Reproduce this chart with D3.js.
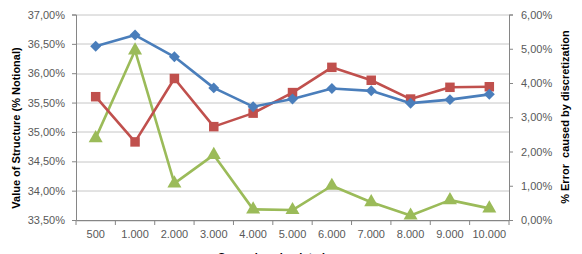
<!DOCTYPE html>
<html>
<head>
<meta charset="utf-8">
<script src="https://cdn.jsdelivr.net/npm/d3@7"></script>
<style>
  body { margin: 0; background: #fff; }
  svg text { font-family: "Liberation Sans", Arial, sans-serif; }
</style>
</head>
<body>
<svg id="chart"></svg>
<script>
// categories and series
const categories = ["500", "1.000", "2.000", "3.000", "4.000", "5.000", "6.000", "7.000", "8.000", "9.000", "10.000"];
const blueValues = [36.46, 36.65, 36.28, 35.75, 35.43, 35.56, 35.74, 35.70, 35.49, 35.55, 35.64];
const redValues = [35.60, 34.83, 35.91, 35.09, 35.32, 35.67, 36.10, 35.88, 35.56, 35.76, 35.77];
const greenValues = [2.39, 4.95, 1.07, 1.90, 0.31, 0.29, 1.00, 0.52, 0.13, 0.58, 0.34];
const leftTicks = [33.5, 34, 34.5, 35, 35.5, 36, 36.5, 37];
const rightTicks = [0, 1, 2, 3, 4, 5, 6];

const W = 582, H = 254;
const margin = { top: 14.5, right: 73, bottom: 34, left: 76 };
const width = W - margin.left - margin.right,
  height = H - margin.top - margin.bottom;

const fmt = (v) => v.toFixed(2).replace(".", ",") + "%";

const svg = d3.select("#chart").attr("width", W).attr("height", H);
const g = svg.append("g").attr("transform", "translate(" + margin.left + "," + margin.top + ")");

const x = d3.scaleBand().domain(categories).range([0, width]);
const yL = d3.scaleLinear().domain([33.5, 37]).range([height, 0]);
const yR = d3.scaleLinear().domain([0, 6]).range([height, 0]);

// gridlines
g.append("g")
  .selectAll("line")
  .data(leftTicks)
  .enter()
  .append("line")
  .attr("x1", 0)
  .attr("x2", width)
  .attr("y1", (d) => Math.round(yL(d)) + 0.5)
  .attr("y2", (d) => Math.round(yL(d)) + 0.5)
  .attr("stroke", "#c6c6c6")
  .attr("stroke-width", 1);

// left axis
const axL = g.append("g")
  .call(d3.axisLeft(yL).tickValues(leftTicks).tickFormat(fmt).tickSize(4).tickPadding(7));
// right axis
const axR = g.append("g")
  .attr("transform", "translate(" + width + ",0)")
  .call(d3.axisRight(yR).tickValues(rightTicks).tickFormat(fmt).tickSize(4).tickPadding(8));
// bottom axis, ticks between categories
const axB = g.append("g")
  .attr("transform", "translate(0," + height + ")")
  .call(d3.axisBottom(x).tickSize(0).tickPadding(10));
axB.selectAll(".tick")
  .append("line")
  .attr("x1", -x.bandwidth() / 2)
  .attr("x2", -x.bandwidth() / 2)
  .attr("y1", 0)
  .attr("y2", 5)
  .attr("stroke", "#868686");
axB.append("line")
  .attr("x1", width).attr("x2", width).attr("y1", 0).attr("y2", 5)
  .attr("stroke", "#868686");

[axL, axR, axB].forEach((a) => {
  a.select(".domain").attr("stroke", "#868686");
  a.selectAll(".tick line").attr("stroke", "#868686");
  a.selectAll("text").attr("fill", "#595959").style("font-size", "11px");
});

const cx = (d, i) => x(categories[i]) + x.bandwidth() / 2;

// excel-style diamond (square turned 45 degrees)
const squareDiamond = {
  draw(context, size) {
    const r = Math.sqrt(size / 2);
    context.moveTo(0, -r);
    context.lineTo(r, 0);
    context.lineTo(0, r);
    context.lineTo(-r, 0);
    context.closePath();
  }
};

function drawSeries(values, scale, color, symbolType, size) {
  const line = d3.line().x((d, i) => cx(d, i)).y((d) => scale(d));
  g.append("path")
    .datum(values)
    .attr("d", line)
    .attr("fill", "none")
    .attr("stroke", color)
    .attr("stroke-width", 2.6)
    .attr("stroke-linejoin", "round");
  g.selectAll(null)
    .data(values)
    .enter()
    .append("path")
    .attr("d", d3.symbol().type(symbolType).size(size))
    .attr("transform", (d, i) => "translate(" + cx(d, i) + "," + scale(d) + ")")
    .attr("fill", color);
}

drawSeries(greenValues, yR, "#9bbb59", d3.symbolTriangle, 85);
drawSeries(redValues, yL, "#c0504d", d3.symbolSquare, 90);
drawSeries(blueValues, yL, "#4a7ebb", squareDiamond, 60);

// axis titles
svg.append("text")
  .attr("transform", "translate(20,128) rotate(-90)")
  .attr("text-anchor", "middle")
  .style("font-size", "11px")
  .style("font-weight", "bold")
  .attr("fill", "#000")
  .text("Value of Structure (% Notional)");

svg.append("text")
  .attr("transform", "translate(569,117) rotate(-90)")
  .attr("text-anchor", "middle")
  .style("font-size", "11px")
  .style("font-weight", "bold")
  .attr("fill", "#000")
  .attr("xml:space", "preserve")
  .text("% Error  caused by discretization");

svg.append("text")
  .attr("x", 292)
  .attr("y", 261)
  .attr("text-anchor", "middle")
  .style("font-size", "11px")
  .style("font-weight", "bold")
  .attr("fill", "#000")
  .text("Scenarios simulated per run");
</script>
</body>
</html>
